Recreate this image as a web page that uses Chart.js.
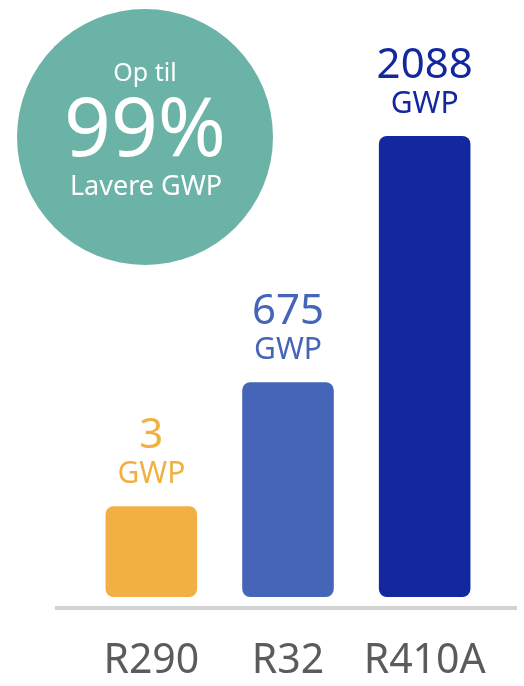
<!DOCTYPE html>
<html>
<head>
<meta charset="utf-8">
<script src="https://cdn.jsdelivr.net/npm/chart.js@4"></script>
<style>
  html, body { margin: 0; padding: 0; background: #fff; }
  #wrap { width: 524px; height: 686px; position: relative; }
</style>
</head>
<body>
<div id="wrap"><canvas id="gwp-chart"></canvas></div>
<script>
// Refrigerants and their GWP values (printed above each bar)
var refrigerants = ['R290', 'R32', 'R410A'];
var gwpValues = [3, 675, 2088];
// The bars are illustrative, not to scale: relative heights (tallest = 100)
var barLevels = [19.7, 46.6, 100];
var barColors = ['#f2b043', '#4664b8', '#13279f'];
var unitLabel = 'GWP';
var badgeLines = ['Op til', '99%', 'Lavere GWP'];

var FONT = '"Noto Sans", "Open Sans", sans-serif';

// Round badge in the top left corner
var badgePlugin = {
    id: 'badge',
    afterDraw: function(chart) {
        var ctx = chart.ctx;
        ctx.save();
        ctx.fillStyle = '#6bb3a7';
        ctx.beginPath();
        ctx.arc(145, 137, 128, 0, Math.PI * 2);
        ctx.fill();
        ctx.fillStyle = '#ffffff';
        ctx.textAlign = 'center';
        ctx.textBaseline = 'middle';
        ctx.font = '25px ' + FONT;
        ctx.fillText(badgeLines[0], 145, 74);
        ctx.font = '82px ' + FONT;
        ctx.fillText(badgeLines[1], 145, 133);
        ctx.font = '27px ' + FONT;
        ctx.fillText(badgeLines[2], 146, 187);
        ctx.restore();
    }
};

// Value + unit above each bar, category names below, and the grey baseline
var labelPlugin = {
    id: 'valueLabels',
    afterDatasetsDraw: function(chart) {
        var ctx = chart.ctx;
        var area = chart.chartArea;
        var xScale = chart.scales.x;
        ctx.save();
        ctx.fillStyle = '#d2d2d2';
        ctx.fillRect(55, area.bottom + 9, 462, 4);
        var meta = chart.getDatasetMeta(0);
        ctx.textAlign = 'center';
        ctx.textBaseline = 'middle';
        meta.data.forEach(function(bar, i) {
            ctx.fillStyle = barColors[i];
            ctx.font = '42px ' + FONT;
            ctx.fillText(String(gwpValues[i]), bar.x, bar.y - 70);
            ctx.font = '30px ' + FONT;
            ctx.fillText(unitLabel, bar.x, bar.y - 32);
        });
        ctx.fillStyle = '#5b5b5b';
        ctx.font = '41px ' + FONT;
        refrigerants.forEach(function(name, i) {
            ctx.fillText(name, xScale.getPixelForTick(i), area.bottom + 64);
        });
        ctx.restore();
    }
};

var ctx = document.getElementById('gwp-chart').getContext('2d');
var gwpChart = new Chart(ctx, {
    type: 'bar',
    data: {
        labels: refrigerants,
        datasets: [{
            data: barLevels,
            backgroundColor: barColors,
            borderRadius: 8,
            borderSkipped: false,
            barPercentage: 0.67,
            categoryPercentage: 1
        }]
    },
    options: {
        responsive: true,
        maintainAspectRatio: false,
        animation: false,
        layout: { padding: { top: 136, left: 83, right: 31, bottom: 89 } },
        plugins: {
            legend: { display: false },
            tooltip: { enabled: false }
        },
        scales: {
            x: { display: false },
            y: { display: false, min: 0, max: 100 }
        }
    },
    plugins: [labelPlugin, badgePlugin]
});
</script>
</body>
</html>
